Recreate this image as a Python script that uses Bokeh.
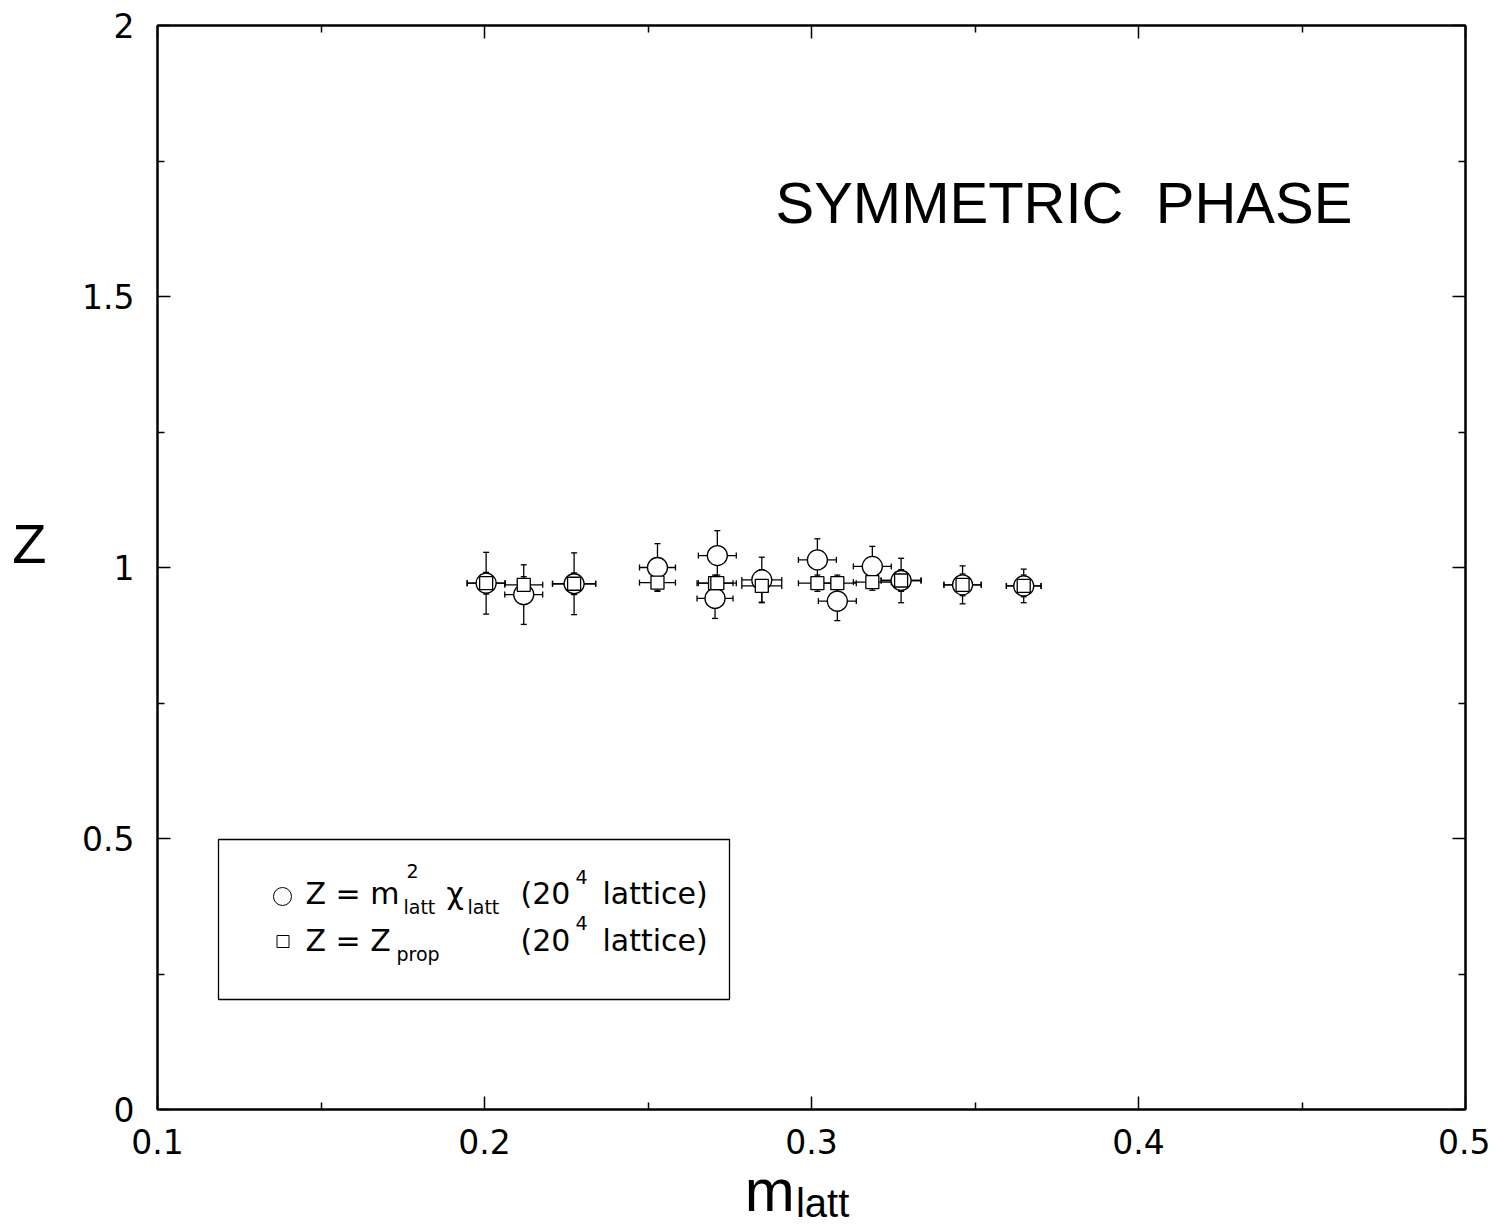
import numpy as np
from bokeh.plotting import figure
from bokeh.models import (Range1d, LinearAxis, FixedTicker, Whisker, TeeHead, Grid,
                          ColumnDataSource, Label, BoxAnnotation, CustomJSTickFormatter)
from bokeh.embed import file_html
from bokeh.resources import INLINE

# ---------------- data ----------------
m_latt = [0.2005, 0.2120, 0.2274, 0.2529, 0.2705, 0.2712, 0.2848,
          0.3018, 0.3079, 0.3186, 0.3274, 0.3462, 0.3649]
m_err = [0.0058, 0.0058, 0.0066, 0.0055, 0.0055, 0.0058, 0.0061,
         0.0058, 0.0058, 0.0058, 0.0061, 0.0057, 0.0053]
z_chi = [0.971, 0.950, 0.970, 1.000, 0.943, 1.022, 0.977,
         1.014, 0.938, 1.002, 0.976, 0.968, 0.966]
z_chi_err = [0.057, 0.055, 0.057, 0.044, 0.037, 0.046, 0.042,
             0.039, 0.036, 0.037, 0.041, 0.035, 0.031]
z_prop = [0.971, 0.968, 0.970, 0.972, 0.971, 0.971, 0.966,
          0.971, 0.971, 0.973, 0.976, 0.968, 0.966]
z_prop_err = [0.020, 0.015, 0.020, 0.015, 0.015, 0.015, 0.030,
              0.015, 0.015, 0.015, 0.020, 0.020, 0.020]

x_ticks = [0.1, 0.2, 0.3, 0.4, 0.5]
x_tick_labels = ["0.1", "0.2", "0.3", "0.4", "0.5"]
x_minor = [0.15, 0.25, 0.35, 0.45]
y_ticks = [0, 0.5, 1, 1.5, 2]
y_tick_labels = ["0", "0.5", "1", "1.5", "2"]
y_minor = [0.25, 0.75, 1.25, 1.75]

x_title_main, x_title_sub = "m", "latt"
y_title = "Z"

X_MIN, X_MAX = 0.1, 0.5
Y_MIN, Y_MAX = 0.0, 2.0

# ---------------- layout helpers (picture pixels -> data) ----------------
FL, FR, FT, FB = 157, 1465, 25, 1109   # frame edges in the picture


def px2x(px):
    return X_MIN + (px - FL) / (FR - FL) * (X_MAX - X_MIN)


def py2y(py):
    return Y_MIN + (FB - py) / (FB - FT) * (Y_MAX - Y_MIN)


W, H = 1490, 1228
p = figure(width=W, height=H, output_backend="svg", toolbar_location=None,
           x_range=Range1d(X_MIN, X_MAX), y_range=Range1d(Y_MIN, Y_MAX),
           x_axis_location=None, y_axis_location=None,
           min_border_left=FL, min_border_right=W - FR,
           min_border_top=FT, min_border_bottom=H - FB)
p.center = [c for c in p.center if not isinstance(c, Grid)]
p.outline_line_color = "black"
p.outline_line_width = 2
p.background_fill_color = "white"
p.border_fill_color = "white"

TICK_FONT = "DejaVu Sans"
TITLE_FONT = "Liberation Sans"
NB = "\u00a0"


def style_axis(ax, show, standoff):
    ax.major_tick_in = 13
    ax.major_tick_out = 0
    ax.minor_tick_in = 7
    ax.minor_tick_out = 0
    ax.major_tick_line_width = 1.5
    ax.minor_tick_line_width = 1.5
    ax.major_tick_line_color = "black"
    ax.minor_tick_line_color = "black"
    ax.axis_line_width = 2
    ax.axis_line_color = "black"
    if show:
        ax.major_label_text_font = TICK_FONT
        ax.major_label_text_font_size = "33px"
        ax.major_label_text_color = "black"
        ax.major_label_standoff = standoff
    else:
        ax.formatter = CustomJSTickFormatter(code="return ''")
        ax.major_label_text_font_size = "1px"
        ax.major_label_standoff = 0


def title_axis(text, size, standoff):
    """An axis with no line and no ticks that only carries a title."""
    ax = LinearAxis(ticker=FixedTicker(ticks=[], minor_ticks=[]))
    ax.axis_line_color = None
    ax.major_tick_line_color = None
    ax.minor_tick_line_color = None
    ax.major_tick_in = 0
    ax.major_tick_out = 0
    ax.minor_tick_in = 0
    ax.minor_tick_out = 0
    ax.major_label_standoff = 0
    ax.formatter = CustomJSTickFormatter(code="return ''")
    ax.major_label_text_font_size = "1px"
    ax.axis_label = text
    ax.axis_label_text_font = TITLE_FONT
    ax.axis_label_text_font_style = "normal"
    ax.axis_label_text_font_size = f"{size}px"
    ax.axis_label_text_color = "black"
    ax.axis_label_standoff = standoff
    return ax


xb = LinearAxis(ticker=FixedTicker(ticks=x_ticks, minor_ticks=x_minor))
xb.major_label_overrides = {t: l for t, l in zip(x_ticks, x_tick_labels)}
style_axis(xb, True, 19)
p.add_layout(xb, "below")

# x title "m" with subscript "latt": two title rows that overlap
# (non-breaking spaces only shift the centred texts sideways)
p.add_layout(title_axis(x_title_main + NB * 5, 60, 0), "below")
p.add_layout(title_axis(NB * 2 + x_title_sub, 40, -46), "below")

xt = LinearAxis(ticker=FixedTicker(ticks=x_ticks, minor_ticks=x_minor))
style_axis(xt, False, 0)
p.add_layout(xt, "above")

yl = LinearAxis(ticker=FixedTicker(ticks=y_ticks, minor_ticks=y_minor))
yl.major_label_overrides = {t: l for t, l in zip(y_ticks, y_tick_labels)}
style_axis(yl, True, 23)
p.add_layout(yl, "left")

ax_z = title_axis(y_title + "\n" + NB, 56, 33)
ax_z.axis_label_text_line_height = 0.76
if "axis_label_orientation" in LinearAxis.properties():
    ax_z.axis_label_orientation = "horizontal"
p.add_layout(ax_z, "left")

yr = LinearAxis(ticker=FixedTicker(ticks=y_ticks, minor_ticks=y_minor))
style_axis(yr, False, 0)
p.add_layout(yr, "right")

# ---------------- data marks ----------------
mx = np.array(m_latt)
mdx = np.array(m_err)
zc = np.array(z_chi)
zce = np.array(z_chi_err)
zp = np.array(z_prop)
zpe = np.array(z_prop_err)

src_c = ColumnDataSource(dict(x=mx, y=zc, ylo=zc - zce, yhi=zc + zce,
                              xlo=mx - mdx, xhi=mx + mdx))
src_p = ColumnDataSource(dict(x=mx, y=zp, ylo=zp - zpe, yhi=zp + zpe,
                              xlo=mx - mdx, xhi=mx + mdx))

LW = 1.3


def tee():
    return TeeHead(size=6, line_width=LW, line_color="black")


for src in (src_c, src_p):
    p.add_layout(Whisker(source=src, base="x", lower="ylo", upper="yhi",
                         dimension="height", line_color="black", line_width=LW,
                         upper_head=tee(), lower_head=tee()))
    p.add_layout(Whisker(source=src, base="y", lower="xlo", upper="xhi",
                         dimension="width", line_color="black", line_width=LW,
                         upper_head=tee(), lower_head=tee()))

p.scatter("x", "y", source=src_c, marker="circle", size=20,
          fill_color="white", line_color="black", line_width=LW)
p.scatter("x", "y", source=src_p, marker="square", size=13,
          fill_color="white", line_color="black", line_width=LW)

# ---------------- texts ----------------
def lab(px, py_base, text, size, font="DejaVu Sans"):
    # py_base = wanted baseline in picture pixels; text is centred on its em box
    p.add_layout(Label(x=px2x(px), y=py2y(py_base - 0.35 * size), text=text,
                       text_font=font, text_font_size=f"{size}px",
                       text_color="black", text_align="left",
                       text_baseline="middle"))


# annotation
lab(775, 222, "SYMMETRIC \u00a0PHASE", 58, "Liberation Sans")

# legend box
p.add_layout(BoxAnnotation(left=px2x(218), right=px2x(729),
                           top=py2y(839), bottom=py2y(999),
                           fill_color=None, line_color="black", line_alpha=1.0,
                           line_width=1.3, level="overlay"))

# legend keys
p.scatter(x=[px2x(282)], y=[py2y(896)], marker="circle", size=18,
          fill_color="white", line_color="black", line_width=1)
p.scatter(x=[px2x(282.5)], y=[py2y(941)], marker="square", size=12,
          fill_color="white", line_color="black", line_width=1)

# legend line 1
lab(305, 903, "Z = m", 30)
lab(406, 877, "2", 19)
lab(403, 913, "latt", 19)
lab(446, 903, "χ", 30)
lab(467, 913, "latt", 19)
lab(520, 903, "(20", 30)
lab(575, 883, "4", 19)
lab(602, 903, "lattice)", 30)

# legend line 2
lab(305, 950, "Z = Z", 30)
lab(396, 960, "prop", 19)
lab(520, 950, "(20", 30)
lab(575, 929, "4", 19)
lab(602, 950, "lattice)", 30)

open("out.html", "w").write(file_html(p, INLINE))
